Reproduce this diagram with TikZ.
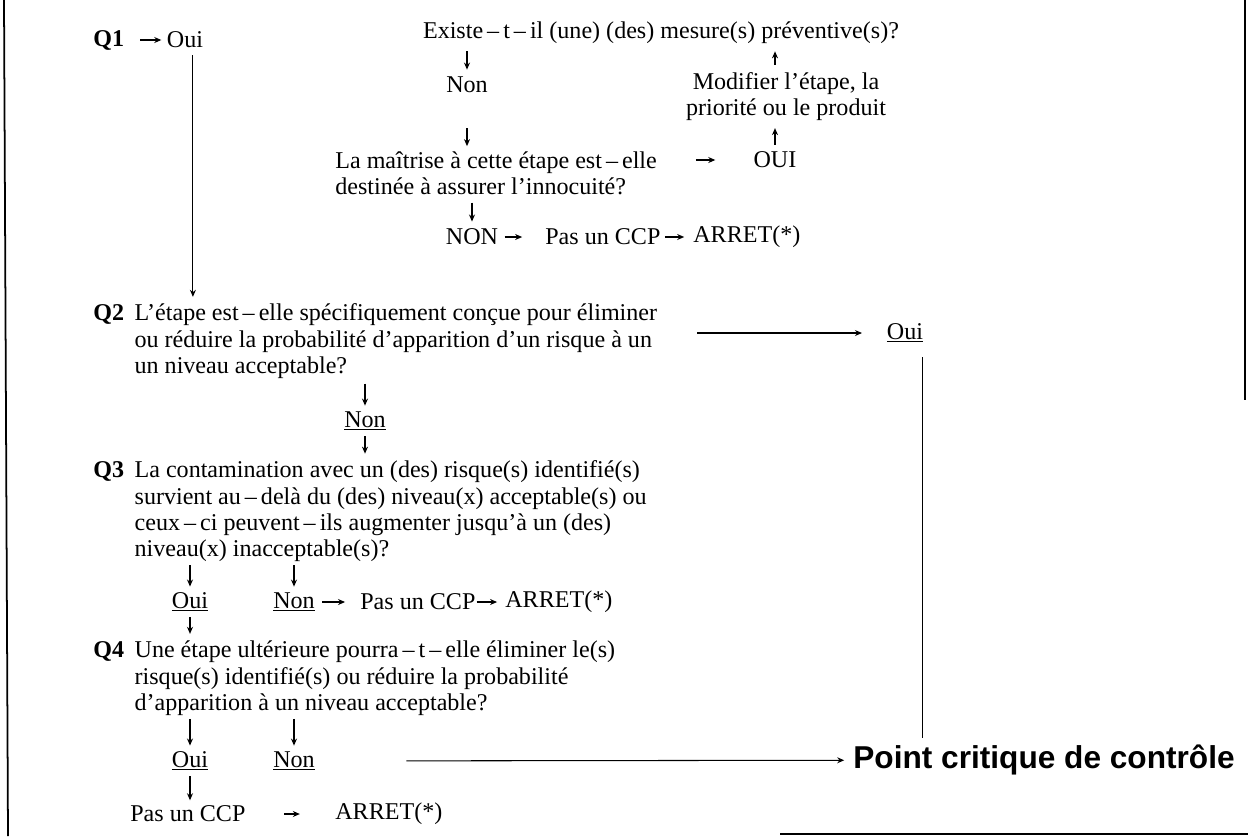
\documentclass[tikz,border=0pt]{standalone}
\usepackage{fontspec}
\setmainfont{Liberation Serif}
\newfontfamily\pcfont{Liberation Sans}
\usetikzlibrary{arrows.meta,positioning,calc}

\tikzset{
  txt/.style={inner sep=0pt, font=\fontsize{13.7}{15}\selectfont, align=left},
  qtxt/.style={txt, font=\bfseries\fontsize{13.7}{15}\selectfont},
  tick/.style={-{Stealth[length=4pt,width=3.4pt]}, line width=0.7pt, shorten <=4pt, shorten >=4pt},
  vtick/.style={tick, shorten <=3pt, shorten >=3pt},
  longarr/.style={-{Stealth[length=4pt,width=3.4pt]}, line width=0.6pt},
  frame/.style={line width=1pt}
}

\begin{document}
\begin{tikzpicture}[x=0.02cm, y=-0.02cm]
\useasboundingbox (0,0) rectangle (1248,836);

% page edges
\draw[frame] (4,0) -- (8,836);
\draw[frame] (1245,0) -- (1245,400);
\draw[frame] (780,834) -- (1248,834);

% Q1 and the preventive measure branch
\node[qtxt, anchor=west] (q1) at (93,40) {Q1};
\node[txt] (oui1) at (185,40) {Oui};
\draw[tick, shorten <=9pt, shorten >=3pt] (q1) -- (oui1);

\node[txt] (existe) at (661,33) {Existe\,–\,t\,–\,il (une) (des) mesure(s) préventive(s)?};
\node[txt] (non1) at (467,85) {Non};
\node[txt, align=center] (modif) at (786,96.5) {Modifier l'étape, la\\priorité ou le produit};
\node[txt] (oui2) at (775,160) {OUI};
\node[txt, anchor=west] (maitr) at (335,173.5) {La maîtrise à cette étape est\,–\,elle\\destinée à assurer l'innocuité?};
\node[txt] (non2) at (472,237) {NON};
\node[txt, anchor=west] (ccp1) at (545,237) {Pas un CCP};
\node[txt, anchor=west] (arret1) at (693,237) {ARRET(*)};

\draw[tick] (existe.south -| non1) -- (non1);
\draw[tick, shorten <=20pt, shorten >=3pt] (non1) -- (non1 |- maitr.north);
\draw[tick] (maitr.south -| non2) -- (non2);
\draw[tick, shorten <=22pt, shorten >=21.6pt] (maitr.north east |- oui2) -- (oui2);
\draw[tick] (oui2) -- (oui2 |- modif.south);
\draw[tick] (modif.north -| oui2) -- (oui2 |- existe.south);
\draw[tick, shorten <=3.5pt, shorten >=13pt] (non2) -- (ccp1);
\draw[tick, shorten <=2.3pt, shorten >=5pt] (ccp1) -- (arret1);

% Q2
\node[txt, anchor=west] (q2) at (93,342) {\begin{tabular}{@{}l@{\hspace{6pt}}l@{}}
\textbf{Q2} & L'étape est\,–\,elle spécifiquement conçue pour éliminer\\
 & ou réduire la probabilité d'apparition d'un risque à un\\
 & un niveau acceptable?\end{tabular}};
\draw[longarr, shorten <=4pt, shorten >=3pt] ([xshift=4.5pt]oui1.south) -- ([xshift=4.5pt]oui1.south |- q2.north);

\node[txt] (oui3) at (905,333) {\underline{Oui}};
\coordinate (q2out) at (697,333);
\draw[longarr, shorten >=14pt] (q2out) -- (oui3);

\node[txt] (non3) at (365,421) {\underline{Non}};
\draw[vtick, shorten <=1pt] (q2.south -| non3) -- (non3);

% Q3
\node[txt, anchor=west] (q3) at (93,512) {\begin{tabular}{@{}l@{\hspace{6pt}}l@{}}
\textbf{Q3} & La contamination avec un (des) risque(s) identifié(s)\\
 & survient au\,–\,delà du (des) niveau(x) acceptable(s) ou\\
 & ceux\,–\,ci peuvent\,–\,ils augmenter jusqu'à un (des)\\
 & niveau(x) inacceptable(s)?\end{tabular}};
\draw[vtick] (non3) -- (non3 |- q3.north);

\node[txt] (oui4) at (190,602) {\underline{Oui}};
\node[txt] (non4) at (294,602) {\underline{Non}};
\node[txt, anchor=west] (ccp2) at (360,602) {Pas un CCP};
\node[txt, anchor=west] (arret2) at (505,602) {ARRET(*)};
\draw[vtick, shorten <=0pt] (q3.south -| oui4) -- (oui4);
\draw[vtick, shorten <=0pt] (q3.south -| non4) -- (non4);
\draw[tick, shorten <=4pt, shorten >=8.5pt] (non4) -- (ccp2);
\draw[tick, shorten <=0.5pt, shorten >=4.5pt] (ccp2) -- (arret2);

% Q4
\node[txt, anchor=west] (q4) at (93,679) {\begin{tabular}{@{}l@{\hspace{6pt}}l@{}}
\textbf{Q4} & Une étape ultérieure pourra\,–\,t\,–\,elle éliminer le(s)\\
 & risque(s) identifié(s) ou réduire la probabilité\\
 & d'apparition à un niveau acceptable?\end{tabular}};
\draw[vtick] (oui4) -- (oui4 |- q4.north);

\node[txt] (oui5) at (190,761) {\underline{Oui}};
\node[txt] (non5) at (294,761) {\underline{Non}};
\draw[vtick, shorten <=0pt] (q4.south -| oui5) -- (oui5);
\draw[vtick, shorten <=0pt] (q4.south -| non5) -- (non5);

\node[inner sep=0pt, font=\pcfont\bfseries\fontsize{18}{21}\selectfont] (pcc) at (1044,760) {Point critique de contrôle};
\draw[longarr, shorten <=52pt, shorten >=5pt] (non5) -- (pcc);
\draw[line width=0.6pt, shorten <=8pt, shorten >=4pt] ([xshift=-0.6pt]oui3.south east) -- ([xshift=-0.6pt]oui3.south east |- pcc.north);

\node[txt, anchor=west] (ccp3) at (130,814) {Pas un CCP};
\node[txt, anchor=west] (arret3) at (335,814) {ARRET(*)};
\draw[vtick] (oui5) -- (oui5 |- ccp3.north);
\draw[tick, shorten <=22pt, shorten >=20pt] (ccp3) -- (arret3);

\end{tikzpicture}
\end{document}
